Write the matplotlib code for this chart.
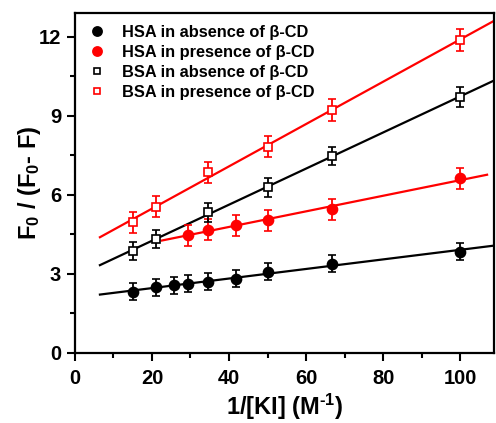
import numpy as np
import matplotlib
matplotlib.use("Agg")
import matplotlib.pyplot as plt
from matplotlib.lines import Line2D
from matplotlib.ticker import MultipleLocator

plt.rcParams['font.family'] = ['Liberation Sans', 'DejaVu Sans']
plt.rcParams['font.weight'] = 'bold'
plt.rcParams['mathtext.fontset'] = 'custom'
plt.rcParams['mathtext.rm'] = 'Liberation Sans:bold'
plt.rcParams['mathtext.it'] = 'Liberation Sans:bold'
plt.rcParams['mathtext.bf'] = 'Liberation Sans:bold'

# Data
hsa_abs_x = [15, 21, 25.6, 29.4, 34.5, 41.7, 50, 66.7, 100]
hsa_abs_y = [2.32, 2.48, 2.56, 2.62, 2.70, 2.82, 3.08, 3.39, 3.84]
hsa_abs_err = [0.33, 0.33, 0.33, 0.33, 0.33, 0.33, 0.33, 0.33, 0.33]

hsa_pre_x = [29.4, 34.5, 41.7, 50, 66.7, 100]
hsa_pre_y = [4.47, 4.68, 4.85, 5.04, 5.45, 6.62]
hsa_pre_err = [0.4, 0.4, 0.4, 0.4, 0.4, 0.4]

bsa_abs_x = [15, 21, 34.5, 50, 66.7, 100]
bsa_abs_y = [3.86, 4.32, 5.33, 6.28, 7.47, 9.72]
bsa_abs_err = [0.35, 0.35, 0.35, 0.35, 0.35, 0.37]

bsa_pre_x = [15, 21, 34.5, 50, 66.7, 100]
bsa_pre_y = [4.95, 5.55, 6.85, 7.82, 9.22, 11.88]
bsa_pre_err = [0.4, 0.4, 0.4, 0.4, 0.4, 0.4]

labels = ['HSA in absence of β-CD', 'HSA in presence of β-CD',
          'BSA in absence of β-CD', 'BSA in presence of β-CD']

fig = plt.figure(figsize=(4.96, 4.23), dpi=100)
ax = fig.add_axes([0.151, 0.166, 0.845, 0.803])

series = [
    (hsa_abs_x, hsa_abs_y, hsa_abs_err, 'black', 'o', True, (6.5, 108.5)),
    (hsa_pre_x, hsa_pre_y, hsa_pre_err, 'red', 'o', True, (22.6, 107)),
    (bsa_abs_x, bsa_abs_y, bsa_abs_err, 'black', 's', False, (6.5, 108.5)),
    (bsa_pre_x, bsa_pre_y, bsa_pre_err, 'red', 's', False, (6.5, 108.5)),
]

handles = []
for (x, y, e, c, m, filled, rng), lab in zip(series, labels):
    p = np.polyfit(x, y, 1)
    xf = np.array(rng)
    ax.plot(xf, np.polyval(p, xf), color=c, lw=1.6, zorder=2)
    ms = 7.2 if m == 'o' else 6.0
    ax.errorbar(x, y, yerr=e, fmt=m, color=c, ecolor=c, elinewidth=1.3,
                capsize=3, capthick=1.3, ms=ms,
                mfc=c if filled else 'white', mec=c, mew=1.2, zorder=3)
    handles.append(Line2D([], [], ls='none', marker=m, ms=6.6 if m == 'o' else 5.0,
                          color=c, mfc=c if filled else 'white', mec=c, mew=1.2))

ax.set_xlim(0, 108.8)
ax.set_ylim(0, 12.9)
ax.xaxis.set_major_locator(MultipleLocator(20))
ax.xaxis.set_minor_locator(MultipleLocator(10))
ax.yaxis.set_major_locator(MultipleLocator(3))
ax.yaxis.set_minor_locator(MultipleLocator(1.5))
ax.tick_params(which='major', direction='out', length=6, width=1.5, labelsize=14.5, pad=4)
ax.tick_params(axis='x', which='major', pad=6)
ax.tick_params(which='minor', direction='out', length=3.5, width=1.5)
ax.tick_params(top=False, right=False)
for lbl in ax.get_xticklabels() + ax.get_yticklabels():
    lbl.set_fontweight('bold')
for s in ax.spines.values():
    s.set_linewidth(1.6)

ax.set_xlabel('1/[KI] (M$^{\\text{-}1}$)', fontsize=17, fontweight='bold', labelpad=2.5)
ax.set_ylabel('F$_0$ / (F$_0$- F)', fontsize=17, fontweight='bold', labelpad=-3)

leg = ax.legend(handles, labels, loc='upper left', bbox_to_anchor=(0.0, 1.008),
                frameon=False, fontsize=11.8, handlelength=0.95, handletextpad=1.0,
                labelspacing=0.3, borderaxespad=0.5)
for t in leg.get_texts():
    t.set_fontweight('bold')

fig.savefig('out.png', dpi=100)
